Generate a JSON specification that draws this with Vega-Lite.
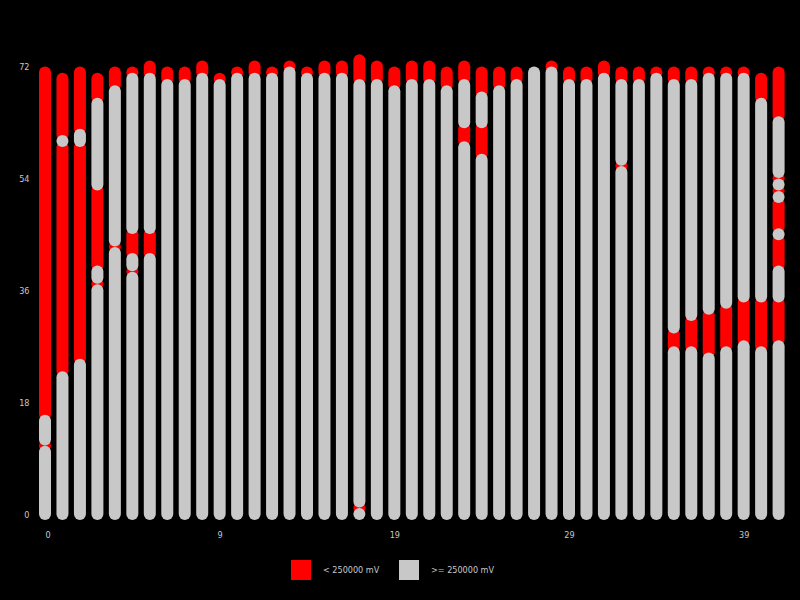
{
  "$schema": "https://vega.github.io/schema/vega-lite/v6.json",
  "background": "#000000",
  "autosize": {"type": "none"},
  "padding": {"left": 45, "top": 66.4, "right": 21.4, "bottom": 86},
  "width": 733.6,
  "height": 447.6,
  "config": {"view": {"stroke": null}},
  "data": {"values": [
    {"x":0,"y":0,"y2":10,"c":">= 250000 mV"},{"x":0,"y":11,"y2":11,"c":"< 250000 mV"},{"x":0,"y":12,"y2":15,"c":">= 250000 mV"},{"x":0,"y":16,"y2":71,"c":"< 250000 mV"},
    {"x":1,"y":0,"y2":22,"c":">= 250000 mV"},{"x":1,"y":23,"y2":59,"c":"< 250000 mV"},{"x":1,"y":60,"y2":60,"c":">= 250000 mV"},{"x":1,"y":61,"y2":70,"c":"< 250000 mV"},
    {"x":2,"y":0,"y2":24,"c":">= 250000 mV"},{"x":2,"y":25,"y2":59,"c":"< 250000 mV"},{"x":2,"y":60,"y2":61,"c":">= 250000 mV"},{"x":2,"y":62,"y2":71,"c":"< 250000 mV"},
    {"x":3,"y":0,"y2":36,"c":">= 250000 mV"},{"x":3,"y":37,"y2":37,"c":"< 250000 mV"},{"x":3,"y":38,"y2":39,"c":">= 250000 mV"},{"x":3,"y":40,"y2":52,"c":"< 250000 mV"},{"x":3,"y":53,"y2":66,"c":">= 250000 mV"},{"x":3,"y":67,"y2":70,"c":"< 250000 mV"},
    {"x":4,"y":0,"y2":42,"c":">= 250000 mV"},{"x":4,"y":43,"y2":43,"c":"< 250000 mV"},{"x":4,"y":44,"y2":68,"c":">= 250000 mV"},{"x":4,"y":69,"y2":71,"c":"< 250000 mV"},
    {"x":5,"y":0,"y2":38,"c":">= 250000 mV"},{"x":5,"y":39,"y2":39,"c":"< 250000 mV"},{"x":5,"y":40,"y2":41,"c":">= 250000 mV"},{"x":5,"y":42,"y2":45,"c":"< 250000 mV"},{"x":5,"y":46,"y2":70,"c":">= 250000 mV"},{"x":5,"y":71,"y2":71,"c":"< 250000 mV"},
    {"x":6,"y":0,"y2":41,"c":">= 250000 mV"},{"x":6,"y":42,"y2":45,"c":"< 250000 mV"},{"x":6,"y":46,"y2":70,"c":">= 250000 mV"},{"x":6,"y":71,"y2":72,"c":"< 250000 mV"},
    {"x":7,"y":0,"y2":69,"c":">= 250000 mV"},{"x":7,"y":70,"y2":71,"c":"< 250000 mV"},
    {"x":8,"y":0,"y2":69,"c":">= 250000 mV"},{"x":8,"y":70,"y2":71,"c":"< 250000 mV"},
    {"x":9,"y":0,"y2":70,"c":">= 250000 mV"},{"x":9,"y":71,"y2":72,"c":"< 250000 mV"},
    {"x":10,"y":0,"y2":69,"c":">= 250000 mV"},{"x":10,"y":70,"y2":70,"c":"< 250000 mV"},
    {"x":11,"y":0,"y2":70,"c":">= 250000 mV"},{"x":11,"y":71,"y2":71,"c":"< 250000 mV"},
    {"x":12,"y":0,"y2":70,"c":">= 250000 mV"},{"x":12,"y":71,"y2":72,"c":"< 250000 mV"},
    {"x":13,"y":0,"y2":70,"c":">= 250000 mV"},{"x":13,"y":71,"y2":71,"c":"< 250000 mV"},
    {"x":14,"y":0,"y2":71,"c":">= 250000 mV"},{"x":14,"y":72,"y2":72,"c":"< 250000 mV"},
    {"x":15,"y":0,"y2":70,"c":">= 250000 mV"},{"x":15,"y":71,"y2":71,"c":"< 250000 mV"},
    {"x":16,"y":0,"y2":70,"c":">= 250000 mV"},{"x":16,"y":71,"y2":72,"c":"< 250000 mV"},
    {"x":17,"y":0,"y2":70,"c":">= 250000 mV"},{"x":17,"y":71,"y2":72,"c":"< 250000 mV"},
    {"x":18,"y":0,"y2":0,"c":">= 250000 mV"},{"x":18,"y":1,"y2":1,"c":"< 250000 mV"},{"x":18,"y":2,"y2":69,"c":">= 250000 mV"},{"x":18,"y":70,"y2":73,"c":"< 250000 mV"},
    {"x":19,"y":0,"y2":69,"c":">= 250000 mV"},{"x":19,"y":70,"y2":72,"c":"< 250000 mV"},
    {"x":20,"y":0,"y2":68,"c":">= 250000 mV"},{"x":20,"y":69,"y2":71,"c":"< 250000 mV"},
    {"x":21,"y":0,"y2":69,"c":">= 250000 mV"},{"x":21,"y":70,"y2":72,"c":"< 250000 mV"},
    {"x":22,"y":0,"y2":69,"c":">= 250000 mV"},{"x":22,"y":70,"y2":72,"c":"< 250000 mV"},
    {"x":23,"y":0,"y2":68,"c":">= 250000 mV"},{"x":23,"y":69,"y2":71,"c":"< 250000 mV"},
    {"x":24,"y":0,"y2":59,"c":">= 250000 mV"},{"x":24,"y":60,"y2":62,"c":"< 250000 mV"},{"x":24,"y":63,"y2":69,"c":">= 250000 mV"},{"x":24,"y":70,"y2":72,"c":"< 250000 mV"},
    {"x":25,"y":0,"y2":57,"c":">= 250000 mV"},{"x":25,"y":58,"y2":62,"c":"< 250000 mV"},{"x":25,"y":63,"y2":67,"c":">= 250000 mV"},{"x":25,"y":68,"y2":71,"c":"< 250000 mV"},
    {"x":26,"y":0,"y2":68,"c":">= 250000 mV"},{"x":26,"y":69,"y2":71,"c":"< 250000 mV"},
    {"x":27,"y":0,"y2":69,"c":">= 250000 mV"},{"x":27,"y":70,"y2":71,"c":"< 250000 mV"},
    {"x":28,"y":0,"y2":71,"c":">= 250000 mV"},
    {"x":29,"y":0,"y2":71,"c":">= 250000 mV"},{"x":29,"y":72,"y2":72,"c":"< 250000 mV"},
    {"x":30,"y":0,"y2":69,"c":">= 250000 mV"},{"x":30,"y":70,"y2":71,"c":"< 250000 mV"},
    {"x":31,"y":0,"y2":69,"c":">= 250000 mV"},{"x":31,"y":70,"y2":71,"c":"< 250000 mV"},
    {"x":32,"y":0,"y2":70,"c":">= 250000 mV"},{"x":32,"y":71,"y2":72,"c":"< 250000 mV"},
    {"x":33,"y":0,"y2":55,"c":">= 250000 mV"},{"x":33,"y":56,"y2":56,"c":"< 250000 mV"},{"x":33,"y":57,"y2":69,"c":">= 250000 mV"},{"x":33,"y":70,"y2":71,"c":"< 250000 mV"},
    {"x":34,"y":0,"y2":69,"c":">= 250000 mV"},{"x":34,"y":70,"y2":71,"c":"< 250000 mV"},
    {"x":35,"y":0,"y2":70,"c":">= 250000 mV"},{"x":35,"y":71,"y2":71,"c":"< 250000 mV"},
    {"x":36,"y":0,"y2":26,"c":">= 250000 mV"},{"x":36,"y":27,"y2":29,"c":"< 250000 mV"},{"x":36,"y":30,"y2":69,"c":">= 250000 mV"},{"x":36,"y":70,"y2":71,"c":"< 250000 mV"},
    {"x":37,"y":0,"y2":26,"c":">= 250000 mV"},{"x":37,"y":27,"y2":31,"c":"< 250000 mV"},{"x":37,"y":32,"y2":69,"c":">= 250000 mV"},{"x":37,"y":70,"y2":71,"c":"< 250000 mV"},
    {"x":38,"y":0,"y2":25,"c":">= 250000 mV"},{"x":38,"y":26,"y2":32,"c":"< 250000 mV"},{"x":38,"y":33,"y2":70,"c":">= 250000 mV"},{"x":38,"y":71,"y2":71,"c":"< 250000 mV"},
    {"x":39,"y":0,"y2":26,"c":">= 250000 mV"},{"x":39,"y":27,"y2":33,"c":"< 250000 mV"},{"x":39,"y":34,"y2":70,"c":">= 250000 mV"},{"x":39,"y":71,"y2":71,"c":"< 250000 mV"},
    {"x":40,"y":0,"y2":27,"c":">= 250000 mV"},{"x":40,"y":28,"y2":34,"c":"< 250000 mV"},{"x":40,"y":35,"y2":70,"c":">= 250000 mV"},{"x":40,"y":71,"y2":71,"c":"< 250000 mV"},
    {"x":41,"y":0,"y2":26,"c":">= 250000 mV"},{"x":41,"y":27,"y2":34,"c":"< 250000 mV"},{"x":41,"y":35,"y2":66,"c":">= 250000 mV"},{"x":41,"y":67,"y2":70,"c":"< 250000 mV"},
    {"x":42,"y":0,"y2":27,"c":">= 250000 mV"},{"x":42,"y":28,"y2":34,"c":"< 250000 mV"},{"x":42,"y":35,"y2":39,"c":">= 250000 mV"},{"x":42,"y":40,"y2":44,"c":"< 250000 mV"},{"x":42,"y":45,"y2":45,"c":">= 250000 mV"},{"x":42,"y":46,"y2":50,"c":"< 250000 mV"},{"x":42,"y":51,"y2":51,"c":">= 250000 mV"},{"x":42,"y":52,"y2":52,"c":"< 250000 mV"},{"x":42,"y":53,"y2":53,"c":">= 250000 mV"},{"x":42,"y":54,"y2":54,"c":"< 250000 mV"},{"x":42,"y":55,"y2":63,"c":">= 250000 mV"},{"x":42,"y":64,"y2":71,"c":"< 250000 mV"}
  ]},
  "encoding": {
    "x": {"field": "x", "type": "quantitative",
      "scale": {"domain": [0, 42], "nice": false, "zero": false},
      "axis": {"values": [0, 10, 20, 30, 40], "labelExpr": "datum.value == 0 ? '0' : format(datum.value - 1, 'd')",
        "title": null, "domain": false, "ticks": false, "tickSize": 0, "grid": false,
        "labelColor": "#c8c8c8", "labelFont": "'DejaVu Sans Condensed', 'Liberation Sans Narrow', Roboto, sans-serif", "labelFontSize": 9, "labelPadding": 16}},
    "y": {"field": "y", "type": "quantitative",
      "scale": {"domain": [0, 72], "nice": false},
      "axis": {"values": [0, 18, 36, 54, 72], "title": null, "domain": false, "ticks": false, "tickSize": 0, "grid": false,
        "labelColor": "#c8c8c8", "labelFont": "'DejaVu Sans Condensed', 'Liberation Sans Narrow', Roboto, sans-serif", "labelFontSize": 9, "labelPadding": 16}},
    "y2": {"field": "y2"},
    "color": {"field": "c", "type": "nominal",
      "scale": {"domain": ["< 250000 mV", ">= 250000 mV"], "range": ["#ff0000", "#c8c8c8"]},
      "legend": {"title": null, "orient": "none", "legendX": 246, "legendY": 493.6, "direction": "horizontal",
        "symbolType": "square", "symbolSize": 400, "symbolStrokeWidth": 0, "symbolOpacity": 1,
        "labelColor": "#c8c8c8", "labelFont": "'DejaVu Sans Condensed', 'Liberation Sans Narrow', Roboto, sans-serif", "labelFontSize": 9, "labelOffset": 12, "columnPadding": 19,
        "encode": {"symbols": {"update": {"fill": {"scale": "color", "field": "value"}, "fillOpacity": {"value": 1}, "strokeWidth": {"value": 0}}}}}}
  },
  "layer": [
    {"transform": [{"filter": "datum.c == '< 250000 mV'"}],
     "mark": {"type": "rule", "strokeWidth": 12, "strokeCap": "round", "opacity": 1}},
    {"transform": [{"filter": "datum.c == '>= 250000 mV'"}],
     "mark": {"type": "rule", "strokeWidth": 12, "strokeCap": "round", "opacity": 1}}
  ]
}
